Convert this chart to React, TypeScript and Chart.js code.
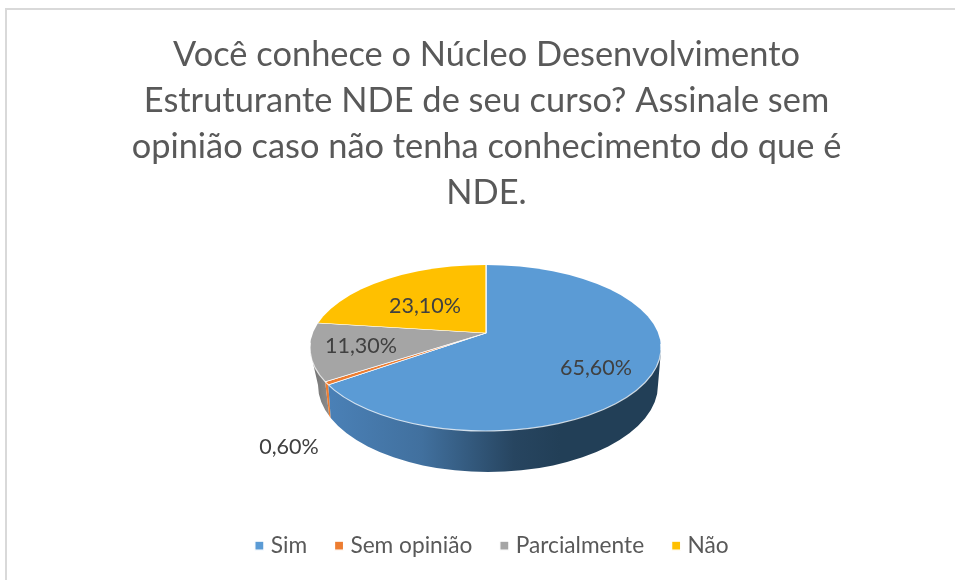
import React, { useEffect, useRef } from "react";
import { Chart, registerables } from "chart.js";

Chart.register(...registerables);

const titleLines = [
  "Você conhece o Núcleo Desenvolvimento",
  "Estruturante NDE de seu curso? Assinale sem",
  "opinião caso não tenha conhecimento do que é",
  "NDE.",
];
const categories = ["Sim", "Sem opinião", "Parcialmente", "Não"];
const values = [65.6, 0.6, 11.3, 23.1];
const valueLabels = ["65,60%", "0,60%", "11,30%", "23,10%"];
const colors = ["#5b9bd5", "#ed7d31", "#a5a5a5", "#ffc000"];

const FONT = "Lato, Carlito, sans-serif";
// Geometry of the tilted pie on the page
const APEX = { x: 486, y: 333 };
const TILT = 0.465;
const TOP = { x: 485.5, y: 348, rx: 175.5, ry: 83 };
const RIM = { x: 488, y: 385, rx: 170, ry: 87 };
const labelAt = [
  { x: 596, y: 368 },
  { x: 289, y: 447 },
  { x: 361, y: 346 },
  { x: 425, y: 306 },
];

// where a pie angle (canvas radians) meets the top ellipse edge
function edgePoint(angle: number) {
  const dx = Math.cos(angle);
  const dy = Math.sin(angle) * TILT;
  const ox = APEX.x - TOP.x;
  const oy = APEX.y - TOP.y;
  const a = (dx * dx) / (TOP.rx * TOP.rx) + (dy * dy) / (TOP.ry * TOP.ry);
  const b = 2 * ((ox * dx) / (TOP.rx * TOP.rx) + (oy * dy) / (TOP.ry * TOP.ry));
  const c = (ox * ox) / (TOP.rx * TOP.rx) + (oy * oy) / (TOP.ry * TOP.ry) - 1;
  const t = (-b + Math.sqrt(b * b - 4 * a * c)) / (2 * a);
  return { x: APEX.x + dx * t, y: APEX.y + dy * t };
}

const tiltedPie = {
  id: "tiltedPie",
  afterLayout(chart: any) {
    chart.legend.left += 7.5;
    chart.legend.right += 7.5;
  },
  beforeDraw(chart: any) {
    const { ctx, width, height } = chart;
    ctx.save();
    ctx.fillStyle = "#ffffff";
    ctx.fillRect(0, 0, width, height);
    ctx.fillStyle = "#d9d9d9";
    ctx.fillRect(5, 8, width - 5, 2);
    ctx.fillRect(5, 8, 2, height - 8);
    ctx.restore();
  },
  beforeDatasetsDraw(chart: any) {
    const { ctx } = chart;
    const arcs = chart.getDatasetMeta(0).data;
    const sim = edgePoint(arcs[0].endAngle);
    const sem = edgePoint(arcs[1].endAngle);

    const hull = () => {
      ctx.beginPath();
      ctx.moveTo(310.5, 352);
      ctx.lineTo(RIM.x - RIM.rx, RIM.y);
      ctx.ellipse(RIM.x, RIM.y, RIM.rx, RIM.ry, 0, Math.PI, 0, true);
      ctx.lineTo(661, 350);
      ctx.closePath();
    };
    const wallPiece = (pts: number[][], fill: any) => {
      ctx.save();
      ctx.beginPath();
      pts.forEach(([x, y], i) => (i ? ctx.lineTo(x, y) : ctx.moveTo(x, y)));
      ctx.closePath();
      ctx.clip();
      hull();
      ctx.fillStyle = fill;
      ctx.fill();
      ctx.restore();
    };

    const blue = ctx.createLinearGradient(330, 0, 560, 0);
    blue.addColorStop(0, "#4a80b6");
    blue.addColorStop(0.4, "#41709e");
    blue.addColorStop(0.8, "#274560");
    blue.addColorStop(1, "#223f57");
    const gray = ctx.createLinearGradient(310, 0, 328, 0);
    gray.addColorStop(0, "#6f6f6f");
    gray.addColorStop(1, "#8b8b8b");

    wallPiece(
      [[300, 340], [sem.x, 340], [sem.x, sem.y], [sem.x + 5, sem.y + 42], [sem.x + 5, 480], [300, 480]],
      gray,
    );
    wallPiece(
      [[sem.x, sem.y], [sim.x, sim.y], [sim.x + 3, sim.y + 40], [sem.x + 5, sem.y + 42]],
      colors[1],
    );
    wallPiece(
      [[sim.x, sim.y], [sim.x, 340], [670, 340], [670, 480], [sim.x + 3, 480], [sim.x + 3, sim.y + 40]],
      blue,
    );

    // the pie itself: real arcs, tilted and trimmed to the top ellipse
    const { x: cx, y: cy } = arcs[0];
    ctx.save();
    ctx.beginPath();
    ctx.ellipse(TOP.x, TOP.y, TOP.rx, TOP.ry, 0, 0, Math.PI * 2);
    ctx.clip();
    ctx.translate(APEX.x, APEX.y);
    ctx.scale(1, TILT);
    ctx.translate(-cx, -cy);
  },
  afterDatasetsDraw(chart: any) {
    const { ctx } = chart;
    ctx.restore();
    // pale seam along the front edge
    ctx.save();
    ctx.strokeStyle = "rgba(255,255,255,0.75)";
    ctx.lineWidth = 1.2;
    ctx.beginPath();
    ctx.ellipse(TOP.x, TOP.y, TOP.rx, TOP.ry, 0, -0.05, Math.PI * 1.02);
    ctx.stroke();
    // value labels
    ctx.fillStyle = "#404040";
    ctx.font = `21.5px ${FONT}`;
    ctx.textAlign = "center";
    ctx.textBaseline = "middle";
    valueLabels.forEach((text, i) => ctx.fillText(text, labelAt[i].x, labelAt[i].y));
    ctx.restore();
  },
};

export default function App() {
  const ref = useRef<HTMLCanvasElement>(null);
  useEffect(() => {
    const chart = new Chart(ref.current as HTMLCanvasElement, {
      type: "pie",
      data: {
        labels: categories,
        datasets: [
          {
            data: values,
            backgroundColor: colors,
            borderColor: "#ffffff",
            borderWidth: 1.2,
            clip: false,
          } as any,
        ],
      },
      options: {
        responsive: false,
        animation: false,
        radius: 240,
        layout: { padding: { left: 18, top: 8, bottom: 13 } },
        plugins: {
          tooltip: { enabled: false },
          title: {
            display: true,
            text: titleLines,
            color: "#595959",
            font: { family: FONT, size: 34.4, weight: "normal", lineHeight: 46 / 34.4 },
            padding: { top: 24, bottom: 10 },
          },
          legend: {
            position: "bottom",
            labels: {
              color: "#595959",
              font: { family: FONT, size: 22.7 },
              usePointStyle: true,
              pointStyle: "rect",
              boxWidth: 0.01,
              boxHeight: 9,
              padding: 32,
            },
          },
        },
      } as any,
      plugins: [tiltedPie as any],
    });
    return () => chart.destroy();
  }, []);
  return (
    <canvas
      ref={ref}
      width={955}
      height={580}
      style={{ position: "fixed", left: 0, top: 0, display: "block" }}
    />
  );
}
